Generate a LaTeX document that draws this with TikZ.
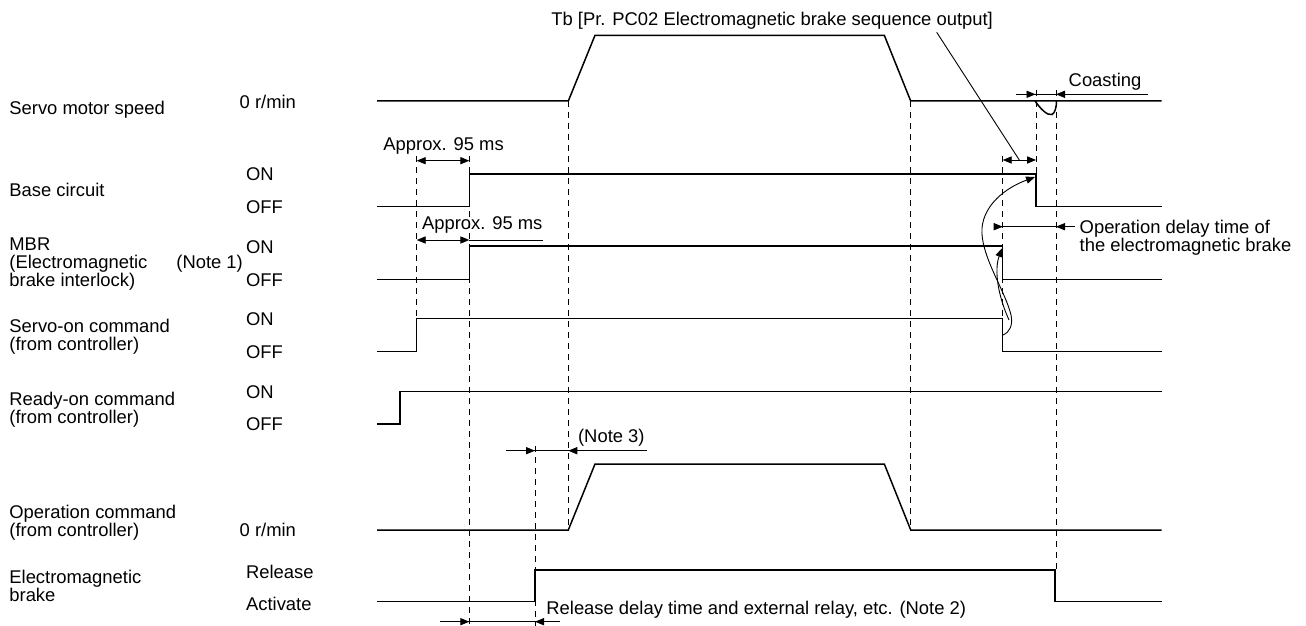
\documentclass[tikz,border=0pt]{standalone}
\usepackage{fontspec}
\setmainfont{Liberation Sans}
\usetikzlibrary{arrows.meta}
\begin{document}
\begin{tikzpicture}[x=0.5pt,y=-0.5pt,
  sig/.style={line width=0.75pt, line join=miter},
  dim/.style={line width=0.45pt},
  guide/.style={line width=0.5pt, dash pattern=on 3pt off 2.5pt},
  tip/.style={-{Triangle[length=4.5pt,width=3.6pt]}},
  tips/.style={{Triangle[length=4.5pt,width=3.6pt]}-{Triangle[length=4.5pt,width=3.6pt]}},
  lbl/.style={font=\fontsize{9.2}{9}\selectfont, inner sep=0pt, anchor=base west},
  lble/.style={font=\fontsize{9.2}{9}\selectfont, inner sep=0pt, anchor=base east}]
\useasboundingbox (0,0) rectangle (1306,626);

% ---------- left labels ----------
\node[lbl] (speed) at (9,115) {Servo motor speed};
\node[lbl] (base) at (9,196.7) {Base circuit};
\node[lbl] (mbr1) at (9,250) {MBR};
\node[lbl] (mbr2) at (9,268.5) {(Electromagnetic};
\node[lbl] (mbr3) at (9,286) {brake interlock)};
\node[lbl] (note1) at (176,268.5) {(Note 1)};
\node[lbl] (son1) at (9,332.7) {Servo-on command};
\node[lbl] (son2) at (9,350) {(from controller)};
\node[lbl] (ron1) at (9,405) {Ready-on command};
\node[lbl] (ron2) at (9,423) {(from controller)};
\node[lbl] (op1) at (9,518.3) {Operation command};
\node[lbl] (op2) at (9,536.5) {(from controller)};
\node[lbl] (emb1) at (9,583.3) {Electromagnetic};
\node[lbl] (emb2) at (9,601.7) {brake};

% ---------- level labels ----------
\node[lbl] (lv1) at (239.3,108.3) {0 r/min};
\node[lbl] (lv2) at (245.7,180) {ON};
\node[lbl] (lv3) at (245.7,213.3) {OFF};
\node[lbl] (lv4) at (245.7,253.3) {ON};
\node[lbl] (lv5) at (245.7,286) {OFF};
\node[lbl] (lv6) at (245.7,325) {ON};
\node[lbl] (lv7) at (245.7,358.3) {OFF};
\node[lbl] (lv8) at (245.7,398.3) {ON};
\node[lbl] (lv9) at (245.7,430) {OFF};
\node[lbl] (lv10) at (239.3,536) {0 r/min};
\node[lbl] (lv11) at (245.7,578.3) {Release};
\node[lbl] (lv12) at (245.7,610.7) {Activate};

% ---------- dashed guides ----------
\draw[guide] (416.7,156) -- (416.7,318.3);
\draw[guide] (469.3,156) -- (469.3,626);
\draw[guide] (535,446) -- (535,626);
\draw[guide] (568.3,101) -- (568.3,530);
\draw[guide] (910.7,101) -- (910.7,530);
\draw[guide] (1002.7,156) -- (1002.7,318.3);
\draw[guide] (1036,90) -- (1036,174);
\draw[guide] (1056,90) -- (1056,570);

% ---------- signals ----------
\draw[sig] (377,101) -- (568.3,101) -- (595,35.3) -- (884.3,35.3) -- (910.7,101) -- (1161.7,101);
\draw[sig] (1035,101) .. controls (1040,108) and (1047,116) .. (1052,114.5) .. controls (1055,113) and (1056.5,107) .. (1056.5,101);
\draw[sig] (377,206.7) -- (469.3,206.7) -- (469.3,174) -- (1036,174) -- (1036,206.7) -- (1161.7,206.7);
\draw[sig] (377,279.3) -- (469.3,279.3) -- (469.3,246) -- (1002.7,246) -- (1002.7,279.3) -- (1161.7,279.3);
\draw[sig] (377,351.7) -- (416.7,351.7) -- (416.7,318.3) -- (1002.7,318.3) -- (1002.7,351.7) -- (1161.7,351.7);
\draw[sig] (377,424) -- (400,424) -- (400,391.7) -- (1161.7,391.7);
\draw[sig] (377,530) -- (568.3,530) -- (595,464) -- (884.3,464) -- (910.7,530) -- (1161.7,530);
\draw[sig] (377,601.7) -- (535,601.7) -- (535,570) -- (1055,570) -- (1055,601.7) -- (1161.7,601.7);

% ---------- dimension arrows ----------
\node[lbl] (ap1) at (383,150.7) {Approx. 95 ms};
\draw[dim,tips] (416.7,160.7) -- (469.3,160.7);

\node[lbl] (ap2) at (421.7,229.3) {Approx. 95 ms};
\draw[dim,tips] (416.7,240) -- (469.3,240);
\draw[dim] (469.3,240) -- (542.7,240);

\node[lbl] (n3) at (577.7,442.7) {(Note 3)};
\draw[dim] (506,450.7) -- (646.7,450.7);
\draw[dim,tip] (506,450.7) -- (535,450.7);
\draw[dim,tip] (646.7,450.7) -- (568.3,450.7);

\node[lbl] (n2) at (546,614) {Release delay time and external relay, etc. (Note 2)};
\draw[dim] (440,621.7) -- (560,621.7);
\draw[dim,tip] (440,621.7) -- (469.3,621.7);
\draw[dim,tip] (560,621.7) -- (535,621.7);

\node[lble] (tb) at (993.3,26) {Tb [Pr. PC02 Electromagnetic brake sequence output]};
\coordinate (tbend) at (1019.3,160);
\draw[dim] (936.7,32.3) -- (tbend);
\draw[dim,tips] (1002.7,160) -- (1036,160);

\node[lbl] (coast) at (1068.3,86.7) {Coasting};
\draw[dim] (1016,94.3) -- (1148.3,94.3);
\draw[dim,tip] (1016,94.3) -- (1035.5,94.3);
\draw[dim,tip] (1148.3,94.3) -- (1056,94.3);

\node[lbl] (od1) at (1079.3,233.3) {Operation delay time of};
\node[lbl] (od2) at (1079.3,251.7) {the electromagnetic brake};
\draw[dim] (995,226.7) -- (1075,226.7);
\draw[dim,tip] (995,226.7) -- (1002.7,226.7);
\draw[dim,tip] (1075,226.7) -- (1056,226.7);

% ---------- curved arrows ----------
\draw[dim,tip] (1003,335) .. controls (1010,332) and (1013,325) .. (1011,315)
  .. controls (1005,290) and (980,255) .. (982,228)
  .. controls (984,205) and (1005,188) .. (1035,177);
\draw[dim,tip] (1009,320) .. controls (998,296) and (994,270) .. (1002.2,248);
\end{tikzpicture}
\end{document}
